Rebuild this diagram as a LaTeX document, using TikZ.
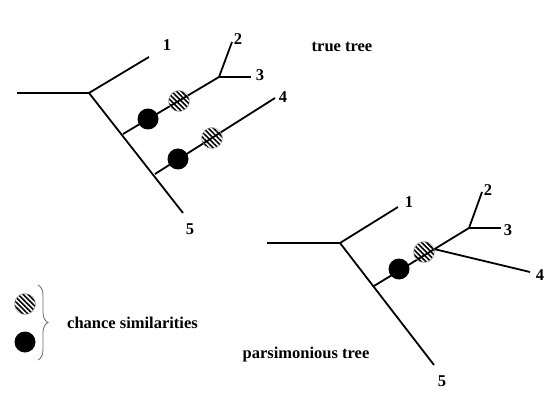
\documentclass[tikz,border=0pt]{standalone}
\usepackage{fontspec}
\setmainfont{Liberation Serif}
\usetikzlibrary{patterns.meta,decorations.pathreplacing}
\begin{document}
\begin{tikzpicture}[x=1pt,y=-1pt,
  branch/.style={line width=1.8pt,black},
  lbl/.style={font=\fontsize{16.5}{18}\selectfont\bfseries,inner sep=0pt},
  blackdot/.style={circle,fill=black,minimum size=21pt,inner sep=0pt},
  hatchdot/.style={circle,draw=gray!70,line width=0.5pt,minimum size=21pt,inner sep=0pt,
     fill=white,pattern={Lines[angle=-45,distance=3.5pt,line width=1.6pt]}}
]
\useasboundingbox (0,0) rectangle (545,395);

% ---------- true tree ----------
\coordinate (tr0) at (17,93);
\coordinate (tr) at (89,93);
\coordinate (t1) at (149,57);
\coordinate (t5) at (183,213);
\coordinate (ta) at (123,134);
\coordinate (tj) at (219,77);
\coordinate (t2) at (232,42);
\coordinate (t3) at (251,77);
\coordinate (tb) at (155,174);
\coordinate (t4) at (275,98);
\draw[branch] (tr0) -- (tr) -- (t1);
\draw[branch] (tr) -- (t5);
\draw[branch] (ta) -- (tj) -- (t2);
\draw[branch] (tj) -- (t3);
\draw[branch] (tb) -- (t4);
\node[blackdot] (tbd1) at (148,119) {};
\node[hatchdot] (thd1) at (179,101) {};
\node[blackdot] (tbd2) at (178,159) {};
\node[hatchdot] (thd2) at (212,138) {};
\node[lbl] (tl1) at (167,45) {1};
\node[lbl] (tl2) at (238,39) {2};
\node[lbl] (tl3) at (260,75) {3};
\node[lbl] (tl4) at (283,97) {4};
\node[lbl] (tl5) at (190,229) {5};
\node[lbl] (ttitle) at (342,47) {true tree};

% ---------- parsimonious tree ----------
\coordinate (pr0) at (267,243);
\coordinate (pr) at (340,243);
\coordinate (p1) at (398,207);
\coordinate (p5) at (434,365);
\coordinate (pa) at (374,286);
\coordinate (pj) at (469,228);
\coordinate (p2) at (482,192);
\coordinate (p3) at (501,228);
\coordinate (pk) at (434,249);
\coordinate (p4) at (530,272);
\draw[branch] (pr0) -- (pr) -- (p1);
\draw[branch] (pr) -- (p5);
\draw[branch] (pa) -- (pj) -- (p2);
\draw[branch] (pj) -- (p3);
\draw[branch] (pk) -- (p4);
\node[blackdot] (pbd) at (399,269) {};
\node[hatchdot] (phd) at (424,252) {};
\node[lbl] (pl1) at (409,202) {1};
\node[lbl] (pl2) at (488,190) {2};
\node[lbl] (pl3) at (508,230) {3};
\node[lbl] (pl4) at (540,275) {4};
\node[lbl] (pl5) at (442,381) {5};
\node[lbl] (ptitle) at (306,355) {parsimonious tree};

% ---------- legend ----------
\node[hatchdot] (lhd) at (25,304) {};
\node[blackdot] (lbd) at (25,342) {};
\coordinate (bt) at (38,285);
\coordinate (bb) at (38,360);
\draw[gray!80!black,line width=0.8pt,decorate,decoration={brace,amplitude=10pt}] (bt) -- (bb);
\node[lbl,anchor=west] (ltext) at (67,323) {chance similarities};
\end{tikzpicture}
\end{document}
